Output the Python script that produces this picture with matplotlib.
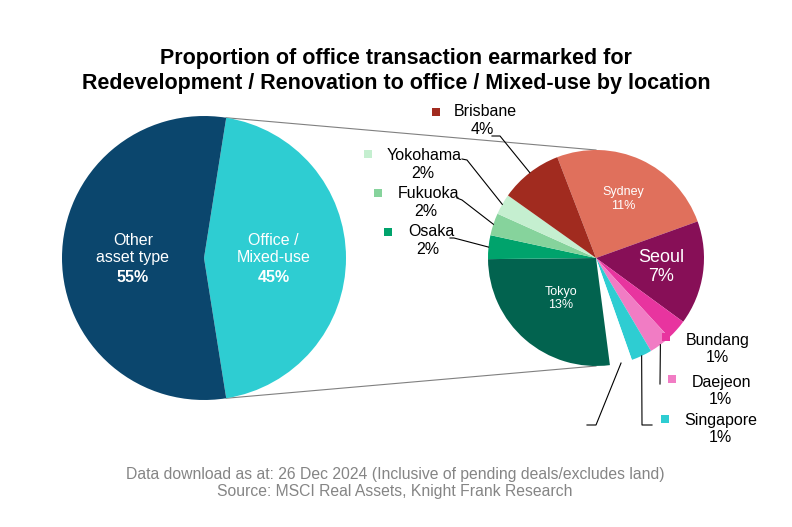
import matplotlib
matplotlib.use('Agg')
import matplotlib.pyplot as plt
from matplotlib.patches import Rectangle
import numpy as np

plt.rcParams['font.family'] = ['Liberation Sans', 'DejaVu Sans']

W, H = 792, 527

# ---- data ----
main_names = ['Office /\nMixed-use', 'Other\nasset type']
main_values = [45, 55]
main_labels = ['45%', '55%']
main_colors = ['#2ecdd2', '#0b466d']

city_names = ['Sydney', 'Seoul', 'Bundang', 'Daejeon', 'Singapore', '',
              'Tokyo', 'Osaka', 'Fukuoka', 'Yokohama', 'Brisbane']
city_values = [11.4, 7.0, 1.4, 1.5, 1.4, 1.5, 12.1, 1.6, 1.5, 1.4, 4.2]
city_labels = ['11%', '7%', '1%', '1%', '1%', '',
               '13%', '2%', '2%', '2%', '4%']
city_colors = ['#e0705c', '#870f57', '#e8349f', '#f17cc4', '#2ecdd2', '#ffffff',
               '#02634f', '#00a36c', '#86d39c', '#c5efd0', '#a12b1f']

title = ('Proportion of office transaction earmarked for\n'
         'Redevelopment / Renovation to office / Mixed-use by location')
footer = ('Data download as at: 26 Dec 2024 (Inclusive of pending deals/excludes land)\n'
          'Source: MSCI Real Assets, Knight Frank Research')


def P(x, y):
    # pixel position (from top-left) -> axes data coords
    return x, H - y


fig = plt.figure(figsize=(W / 100, H / 100), dpi=100)
ax = fig.add_axes([0, 0, 1, 1])

# ---- big pie ----
big_c, big_r = P(204, 258), 142
wedges, _ = ax.pie(main_values, colors=main_colors, startangle=-81, radius=big_r,
                   center=big_c, frame=True, wedgeprops=dict(linewidth=0))
for w, name, lab, frac in zip(wedges, main_names, main_labels, [0.49, 0.5]):
    ang = np.deg2rad((w.theta1 + w.theta2) / 2)
    x = big_c[0] + frac * big_r * np.cos(ang)
    y = big_c[1] + frac * big_r * np.sin(ang)
    ax.text(x, y + 9, name, ha='center', va='center', color='white', fontsize=11.5)
    ax.text(x, y - 19, lab, ha='center', va='center', color='white', fontsize=11.5,
            fontweight='bold')

# ---- small pie ----
sm_c, sm_r = P(596, 258), 108
swedges, _ = ax.pie(city_values, colors=city_colors, startangle=111, counterclock=False,
                    radius=sm_r, center=sm_c, frame=True, wedgeprops=dict(linewidth=0))


def wedge_point(i, frac=1.0):
    w = swedges[i]
    ang = np.deg2rad((w.theta1 + w.theta2) / 2)
    return (sm_c[0] + frac * sm_r * np.cos(ang), sm_c[1] + frac * sm_r * np.sin(ang))


# connector lines between the two pies
for a_big, a_small in [(81, 90), (-81, -90)]:
    x0 = big_c[0] + big_r * np.cos(np.deg2rad(a_big))
    y0 = big_c[1] + big_r * np.sin(np.deg2rad(a_big))
    x1 = sm_c[0] + sm_r * np.cos(np.deg2rad(a_small))
    y1 = sm_c[1] + sm_r * np.sin(np.deg2rad(a_small))
    ax.plot([x0, x1], [y0, y1], color='#808080', lw=0.8, zorder=0)

# inside labels
inside = {'Sydney': (0.6, 9), 'Seoul': (0.61, 13), 'Tokyo': (0.5, 9)}
for i, name in enumerate(city_names):
    if name in inside:
        frac, fs = inside[name]
        x, y = wedge_point(i, frac)
        ax.text(x, y, name + '\n' + city_labels[i], ha='center', va='center',
                color='white', fontsize=fs, linespacing=1.15)

# outside labels: square, name left x/y, pct centre, leader points
outside = {
    'Brisbane': ((436, 112), (454, 112), (482, 129), [(500, 136), (492, 136)]),
    'Yokohama': ((368, 154), (387, 156), (423, 174), [(467, 160), (462, 159)]),
    'Fukuoka': ((378, 193), (398, 194), (426, 212), [(462, 200), (457, 198)]),
    'Osaka': ((388, 232), (408, 232), (428, 250), [(454, 238), (450, 238)]),
    'Bundang': ((666, 337), (686, 340), (717, 358), []),
    'Daejeon': ((672, 379), (692, 382), (720, 399), [(660, 384)]),
    'Singapore': ((665, 419), (684, 421), (720, 438), [(642, 425), (652, 425)]),
}
for i, name in enumerate(city_names):
    if name in outside:
        sq, nm, pc, pts = outside[name]
        sx, sy = P(*sq)
        ax.add_patch(Rectangle((sx - 4, sy - 4), 8, 8, color=city_colors[i], lw=0))
        ax.text(*P(*nm), name, ha='left', va='center', fontsize=11.5)
        ax.text(*P(*pc), city_labels[i], ha='center', va='center', fontsize=11.5)
        if pts:
            path = [wedge_point(i)] + [P(*p) for p in pts]
            ax.plot(*zip(*path), color='black', lw=0.8)

# unlabelled slice leader
path = [wedge_point(5)] + [P(596, 425), P(587, 425)]
ax.plot(*zip(*path), color='black', lw=0.8)

# ---- titles ----
ax.text(*P(396, 71), title, ha='center', va='center', fontsize=15.5, fontweight='bold',
        linespacing=1.2)
ax.text(*P(395, 483), footer, ha='center', va='center', fontsize=11.3, color='#858585',
        linespacing=1.2)

ax.set_xlim(0, W)
ax.set_ylim(0, H)
ax.set_aspect('equal')
ax.axis('off')

fig.savefig('out.png', dpi=100)
